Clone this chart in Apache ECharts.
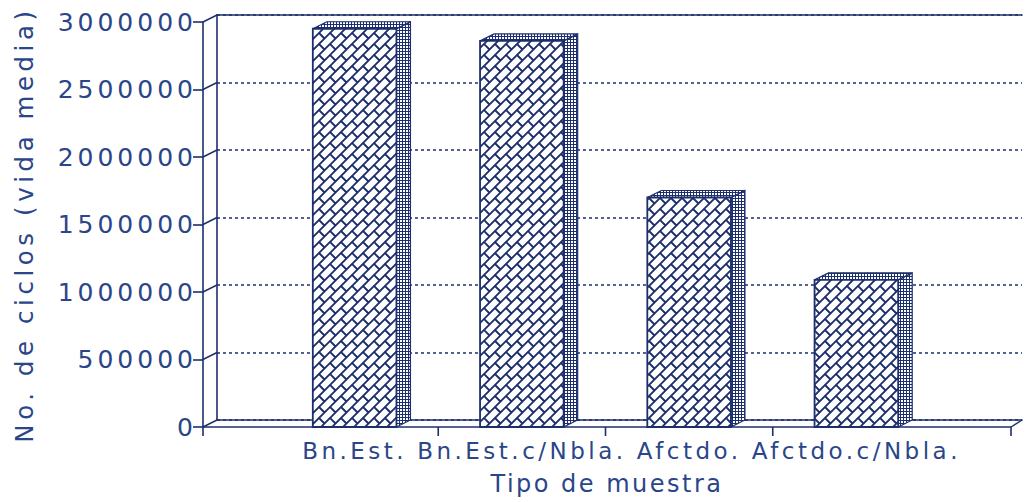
<!DOCTYPE html>
<html>
<head>
<meta charset="utf-8">
<script src="https://cdn.jsdelivr.net/npm/echarts@6/dist/echarts.min.js"></script>
<style>
  html, body { margin: 0; padding: 0; background: #ffffff; }
  #chart { width: 1025px; height: 502px; }
  /* per-role letter spacing (each text role uses a distinct font size) */
  #chart text[style*="25px"] { letter-spacing: 4px; }
  #chart text[style*="23px"] { letter-spacing: 3.5px; }
  #chart text[style*="24px"] { letter-spacing: 2.5px; }
  #chart text[style*="24.4px"] { letter-spacing: 4.6px; }
</style>
</head>
<body>
<div id="chart"></div>
<script>
// ---- data ----
const categories = ['Bn.Est.', 'Bn.Est.c/Nbla.', 'Afctdo.', 'Afctdo.c/Nbla.'];
const cycles = [2950000, 2860000, 1700000, 1090000];
const yTicks = [0, 500000, 1000000, 1500000, 2000000, 2500000, 3000000];
const xTitle = 'Tipo de muestra';
const yTitle = 'No. de ciclos (vida media)';

// ---- style ----
const LINE = '#1c2f6c';
const TEXT = '#2a4689';
const FONT = 'DejaVu Sans';
const DX = 14, DY = -7;

function hatchTile() {
  const T = 22, H = T / 2;
  const c = document.createElement('canvas'); c.width = T; c.height = T;
  const g = c.getContext('2d');
  g.fillStyle = '#ffffff'; g.fillRect(0, 0, T, T);
  g.strokeStyle = LINE; g.lineWidth = 1.9; g.lineCap = 'round';
  g.beginPath();
  for (let k = -2 * T; k <= 3 * T; k += H) { g.moveTo(k + 2 * T, -2 * T); g.lineTo(k - 2 * T, 2 * T); }
  for (let j = -4; j <= 6; j++) {
    const s = j * H;
    const strip = ((j % 2) + 2) % 2;
    for (let d = -3 * T; d <= 3 * T; d += T) {
      const dd = strip === 0 ? d : d + H;
      g.moveTo((dd + s) / 2, (s - dd) / 2);
      g.lineTo((dd + s + H) / 2, (s + H - dd) / 2);
    }
  }
  g.stroke();
  return c;
}
function stippleTile() {
  const c = document.createElement('canvas'); c.width = 3; c.height = 3;
  const g = c.getContext('2d');
  g.fillStyle = LINE; g.fillRect(0, 0, 3, 3);
  g.fillStyle = '#ffffff'; g.fillRect(1, 1, 2, 2);
  return c;
}
const hatch = { image: hatchTile().toDataURL(), repeat: 'repeat', imageWidth: 22, imageHeight: 22 };
const stipple = { image: stippleTile().toDataURL(), repeat: 'repeat', imageWidth: 3, imageHeight: 3 };

const chart = echarts.init(document.getElementById('chart'), null, { renderer: 'svg' });
const yMin = yTicks[0], yMax = yTicks[yTicks.length - 1], yStep = yTicks[1] - yTicks[0];
const lineStyle = { color: LINE, width: 1.6 };

chart.setOption({
  animation: false,
  backgroundColor: '#ffffff',
  grid: [
    { left: 203, top: 22, width: 808, height: 405, outerBoundsMode: 'none' },   // front frame
    { left: 217, top: 15, width: 805, height: 405, outerBoundsMode: 'none' },   // back wall
    { left: 271, top: 22, width: 669, height: 405, outerBoundsMode: 'none' }    // bars
  ],
  xAxis: [
    { gridIndex: 0, type: 'value', min: 0, max: 1, interval: 1,
      axisLine: { show: true, lineStyle: lineStyle },
      axisTick: { show: true, length: 9, lineStyle: lineStyle },
      axisLabel: { show: false }, splitLine: { show: false },
      name: xTitle, nameLocation: 'middle', nameGap: 45,
      nameTextStyle: { fontSize: 24, fontFamily: FONT, color: TEXT } },
    { gridIndex: 1, type: 'value', min: 0, max: 1,
      axisLine: { show: true, lineStyle: lineStyle },
      axisTick: { show: false }, axisLabel: { show: false }, splitLine: { show: false } },
    { gridIndex: 1, type: 'value', min: 0, max: 1, position: 'top',
      axisLine: { show: true, lineStyle: lineStyle },
      axisTick: { show: false }, axisLabel: { show: false }, splitLine: { show: false } },
    { gridIndex: 2, type: 'category', data: categories,
      axisLine: { show: false }, axisTick: { show: false },
      axisLabel: { interval: 0, margin: 12, fontSize: 23, fontFamily: FONT, color: TEXT },
      splitLine: { show: false } }
  ],
  yAxis: [
    { gridIndex: 0, type: 'value', min: yMin, max: yMax, interval: yStep,
      axisLine: { show: true, lineStyle: lineStyle },
      axisTick: { show: true, length: 10, lineStyle: lineStyle },
      axisLabel: { margin: 6, fontSize: 25, fontFamily: FONT, color: TEXT, formatter: v => String(v) },
      splitLine: { show: false },
      name: yTitle, nameLocation: 'middle', nameGap: 167,
      nameTextStyle: { fontSize: 24.4, fontFamily: FONT, color: TEXT } },
    { gridIndex: 1, type: 'value', min: yMin, max: yMax, interval: yStep,
      axisLine: { show: true, lineStyle: lineStyle },
      axisTick: { show: false }, axisLabel: { show: false },
      splitLine: { show: true, lineStyle: { color: LINE, width: 1.6, type: [3, 3] } } },
    { gridIndex: 2, type: 'value', min: yMin, max: yMax, show: false }
  ],
  series: [
    { // slanted tick connectors from front axis to back wall, plus floor right edge
      type: 'custom', xAxisIndex: 0, yAxisIndex: 0, silent: true, z: 3,
      data: yTicks.map(v => [0, v]),
      renderItem: function (params, api) {
        const p = api.coord([api.value(0), api.value(1)]);
        const children = [{ type: 'line', shape: { x1: p[0], y1: p[1], x2: p[0] + DX, y2: p[1] + DY },
          style: { stroke: LINE, lineWidth: 1.4 } }];
        if (params.dataIndex === 0) {
          const q = api.coord([1, api.value(1)]);
          children.push({ type: 'line', shape: { x1: q[0], y1: q[1], x2: q[0] + DX - 3, y2: q[1] + DY },
            style: { stroke: LINE, lineWidth: 1.4 } });
        }
        return { type: 'group', children: children };
      }
    },
    { // category divider ticks under the floor
      type: 'custom', xAxisIndex: 3, yAxisIndex: 2, silent: true, z: 3,
      data: categories.slice(1).map((c, i) => [c, 0]),
      renderItem: function (params, api) {
        const p = api.coord([api.value(0), 0]);
        const half = api.size([1, 0])[0] / 2;
        return { type: 'line', shape: { x1: p[0] - half, y1: p[1], x2: p[0] - half, y2: p[1] + 9 },
          style: { stroke: LINE, lineWidth: 1.6 } };
      }
    },
    { // 3D hatched bars
      type: 'custom', xAxisIndex: 3, yAxisIndex: 2, z: 5,
      data: categories.map((c, i) => [c, cycles[i]]),
      encode: { x: 0, y: 1 },
      renderItem: function (params, api) {
        const top = api.coord([api.value(0), api.value(1)]);
        const base = api.coord([api.value(0), 0]);
        const bw = api.size([1, 0])[0] * 0.5;
        const xl = top[0] - bw / 2, xr = top[0] + bw / 2;
        const yt = top[1], yb = base[1];
        return { type: 'group', children: [
          { type: 'polygon', shape: { points: [[xr, yb], [xr, yt], [xr + DX, yt + DY], [xr + DX, yb + DY]] },
            style: { fill: stipple, stroke: LINE, lineWidth: 1.2 } },
          { type: 'polygon', shape: { points: [[xl, yt], [xr, yt], [xr + DX, yt + DY], [xl + DX, yt + DY]] },
            style: { fill: stipple, stroke: LINE, lineWidth: 1.2 } },
          { type: 'rect', shape: { x: xl, y: yt, width: bw, height: yb - yt },
            style: { fill: hatch, stroke: LINE, lineWidth: 1.8 } }
        ] };
      }
    }
  ]
});
</script>
</body>
</html>
